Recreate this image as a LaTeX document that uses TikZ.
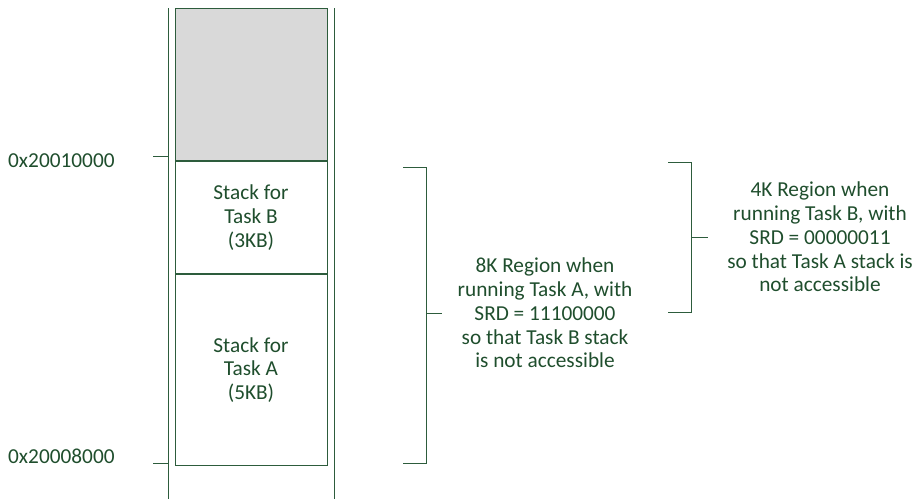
\documentclass[tikz,border=0pt]{standalone}
\usepackage{fontspec}
\setmainfont{Carlito}
\definecolor{memgreen}{RGB}{31,78,45}
\definecolor{memline}{RGB}{45,92,60}
\definecolor{memgray}{RGB}{217,217,217}
\tikzset{
  memtext/.style={text=memgreen, align=center, inner sep=0pt,
    font=\fontsize{21.3}{23.8}\selectfont},
  membox/.style={memtext, draw=memline, line width=1pt,
    minimum width=152pt, anchor=north},
  memrule/.style={draw=memline, line width=1pt},
}
\begin{document}
\begin{tikzpicture}[x=1pt, y=-1pt]
  \useasboundingbox (0,0) rectangle (917,499);
  % memory column
  \coordinate (lt) at (168, 8);
  \coordinate (lb) at (168, 499);
  \coordinate (rt) at (334, 8);
  \coordinate (rb) at (334, 499);
  \draw[memrule] (lt) -- (lb);
  \draw[memrule] (rt) -- (rb);
  \node[membox, fill=memgray, minimum height=152pt] (free) at (251, 8) {};
  \node[membox, minimum height=112pt] (stackB) at (free.south) {Stack for\\Task B\\(3KB)};
  \node[membox, minimum height=191pt] (stackA) at (stackB.south) {Stack for\\Task A\\(5KB)};
  % addresses
  \coordinate (hi) at (153, 156);
  \coordinate (lo) at (153, 463);
  \draw[memrule] (hi) -- (hi -| lt);
  \draw[memrule] (lo) -- (lo -| lt);
  \node[memtext, anchor=west] (hiaddr) at (8, 161) {0x20010000};
  \node[memtext, anchor=west] (loaddr) at (8, 456) {0x20008000};
  % 8K region bracket
  \coordinate (a1) at (403, 167);
  \coordinate (a2) at (426, 167);
  \coordinate (a3) at (426, 463);
  \coordinate (a4) at (403, 463);
  \coordinate (am) at (426, 313);
  \draw[memrule] (a1) -- (a2) -- (a3) -- (a4);
  \draw[memrule] (am) -- ++(16, 0);
  \node[memtext] (regionA) at (545, 313) {8K Region when\\running Task A, with\\SRD = 11100000\\so that Task B stack\\is not accessible};
  % 4K region bracket
  \coordinate (b1) at (668, 162);
  \coordinate (b2) at (691, 162);
  \coordinate (b3) at (691, 312);
  \coordinate (b4) at (668, 312);
  \coordinate (bm) at (691, 237);
  \draw[memrule] (b1) -- (b2) -- (b3) -- (b4);
  \draw[memrule] (bm) -- ++(17, 0);
  \node[memtext] (regionB) at (820, 237) {4K Region when\\running Task B, with\\SRD = 00000011\\so that Task A stack is\\not accessible};
\end{tikzpicture}
\end{document}
